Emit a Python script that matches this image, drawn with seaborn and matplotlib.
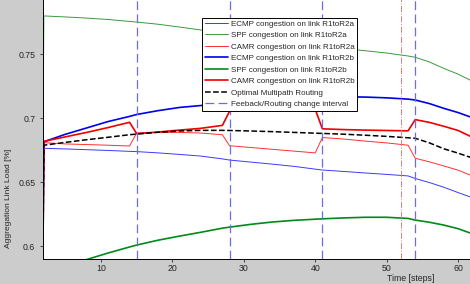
import numpy as np
import pandas as pd
import seaborn as sns
import matplotlib
matplotlib.use("Agg")
import matplotlib.pyplot as plt

steps = [1, 2, 5, 8, 11, 14, 15, 18, 21, 24, 27, 28, 31, 34, 37, 40, 41,
         44, 47, 50, 53, 54, 56, 58, 60, 62]

ecmp_a = [0, 0.6766, 0.6761, 0.6755, 0.6749, 0.6742, 0.6740, 0.6730, 0.6718,
          0.6705, 0.6683, 0.6674, 0.6658, 0.6642, 0.6625, 0.6603, 0.6596,
          0.6585, 0.6573, 0.6562, 0.6550, 0.6530, 0.6498, 0.6462, 0.6420, 0.6380]
spf_a = [0, 0.7800, 0.7792, 0.7783, 0.7772, 0.7757, 0.7752, 0.7735, 0.7713,
         0.7690, 0.7668, 0.7660, 0.7638, 0.7615, 0.7592, 0.7570, 0.7562,
         0.7545, 0.7528, 0.7510, 0.7487, 0.7477, 0.7440, 0.7390, 0.7345, 0.7290]
camr_a = [0, 0.6810, 0.6800, 0.6795, 0.6790, 0.6784, 0.6885, 0.6890, 0.6890,
          0.6885, 0.6872, 0.6786, 0.6772, 0.6758, 0.6744, 0.6730, 0.6850,
          0.6838, 0.6822, 0.6808, 0.6790, 0.6688, 0.6660, 0.6628, 0.6595, 0.6550]
ecmp_b = [0, 0.6817, 0.6875, 0.6925, 0.6975, 0.7015, 0.7030, 0.7060, 0.7085,
          0.7100, 0.7122, 0.7128, 0.7142, 0.7153, 0.7162, 0.7167, 0.7168,
          0.7168, 0.7166, 0.7160, 0.7150, 0.7143, 0.7115, 0.7078, 0.7045, 0.7005]
spf_b = [0, 0.5780, 0.5845, 0.5897, 0.5948, 0.5995, 0.6010, 0.6048, 0.6080,
         0.6110, 0.6142, 0.6150, 0.6172, 0.6190, 0.6203, 0.6212, 0.6215,
         0.6222, 0.6227, 0.6227, 0.6218, 0.6205, 0.6188, 0.6166, 0.6138, 0.6098]
camr_b = [0, 0.6820, 0.6855, 0.6890, 0.6928, 0.6969, 0.6880, 0.6893, 0.6908,
          0.6922, 0.6945, 0.7055, 0.7065, 0.7072, 0.7075, 0.7070, 0.6918,
          0.6912, 0.6908, 0.6905, 0.6902, 0.6990, 0.6968, 0.6938, 0.6905, 0.6852]
optimal = [0, 0.6790, 0.6812, 0.6833, 0.6852, 0.6872, 0.6877, 0.6891, 0.6901,
           0.6906, 0.6906, 0.6905, 0.6901, 0.6896, 0.6890, 0.6884, 0.6882,
           0.6876, 0.6868, 0.6859, 0.6848, 0.6844, 0.6808, 0.6762, 0.6728, 0.6690]

feedback_steps = [15, 28, 41, 54]
red_mark_step = 52

yticks = [0.6, 0.65, 0.7, 0.75]
ytick_labels = ['0.6', '0.65', '0.7', '0.75']
xticks = [10, 20, 30, 40, 50, 60]

df = pd.DataFrame({'t': steps, 'ecmp_a': ecmp_a, 'spf_a': spf_a, 'camr_a': camr_a,
                   'ecmp_b': ecmp_b, 'spf_b': spf_b, 'camr_b': camr_b,
                   'optimal': optimal})

sns.set_style('white')
plt.rcParams['font.family'] = ['Liberation Sans', 'DejaVu Sans']

fig = plt.figure(figsize=(4.7, 2.84), dpi=100, facecolor='#cccccc')
ax = fig.add_axes([0.0915, 0.088, 0.912, 0.915])
ax.set_facecolor('white')

series = [
    ('ecmp_a', 'ECMP congestion on link R1toR2a', '#3a3aff', 0.7, '-'),
    ('spf_a', 'SPF congestion on link R1toR2a', '#3c9a3c', 0.7, '-'),
    ('camr_a', 'CAMR congestion on link R1toR2a', '#ff3030', 0.7, '-'),
    ('ecmp_b', 'ECMP congestion on link R1toR2b', '#0000e6', 1.2, '-'),
    ('spf_b', 'SPF congestion on link R1toR2b', '#008a1a', 1.2, '-'),
    ('camr_b', 'CAMR congestion on link R1toR2b', '#ee0000', 1.2, '-'),
    ('optimal', 'Optimal Multipath Routing', 'black', 1.1, '--'),
]
for col, label, color, lw, ls in series:
    sns.lineplot(data=df, x='t', y=col, ax=ax, color=color, lw=lw,
                 linestyle=ls, label=label)

for i, s in enumerate(feedback_steps):
    ax.axvline(s, color='#6c6ce8', lw=0.9, dashes=(7, 3.5),
               label='Feeback/Routing change interval' if i == 0 else None)
ax.axvline(red_mark_step, color='#e88080', lw=0.7, linestyle='-.')

ax.set_xlim(1.88, 61.9)
ax.set_ylim(0.5901, 0.7931)
ax.set_xticks(xticks)
ax.set_xticklabels([str(v) for v in xticks])
ax.set_yticks(yticks)
ax.set_yticklabels(ytick_labels)
ax.tick_params(labelsize=6.3, direction='out', length=2, width=0.6, pad=1.5,
               bottom=True, left=True)
ax.tick_params(axis='y', pad=3.5)
for sp in ax.spines.values():
    sp.set_color('black')
    sp.set_linewidth(0.7)

ax.set_xlabel('Time [steps]', fontsize=6.3)
ax.xaxis.set_label_coords(0.857, -0.057)
ax.set_ylabel('Aggregation Link Load [%]', fontsize=6.0)
ax.yaxis.set_label_coords(-0.072, 0.232)

leg = ax.legend(loc='upper left', bbox_to_anchor=(0.3717, 0.929), fontsize=5.8,
                frameon=True, fancybox=False, framealpha=1, edgecolor='black',
                borderpad=0.3, labelspacing=0.48, handlelength=2.9,
                handletextpad=0.3, borderaxespad=0)
leg.get_frame().set_linewidth(0.7)

fig.savefig('out.png', dpi=100, facecolor=fig.get_facecolor())
